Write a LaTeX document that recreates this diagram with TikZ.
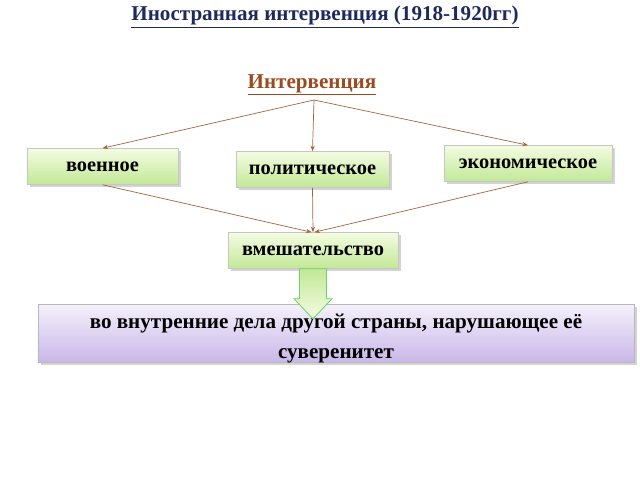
\documentclass[tikz,border=0pt]{standalone}
\usepackage{fontspec}
\setmainfont{Liberation Serif}
\usepackage{xcolor}
\usetikzlibrary{shapes,arrows.meta,positioning,shadows}
\definecolor{titleblue}{HTML}{1F2A5C}
\definecolor{rootbrown}{HTML}{9C4A20}
\definecolor{linkbrown}{HTML}{A56440}
\definecolor{greentop}{HTML}{F4FCE2}
\definecolor{greenbot}{HTML}{C2E896}
\definecolor{violettop}{HTML}{F4F0FB}
\definecolor{violetbot}{HTML}{C9B7E8}

\begin{document}
\begin{tikzpicture}[x=0.025cm,y=-0.025cm,
    kindbox/.style={draw=gray!45, top color=greentop, bottom color=greenbot,
        minimum height=0.9cm, inner sep=0pt, font=\fontsize{14.5}{17}\selectfont\bfseries,
        drop shadow={shadow xshift=2pt, shadow yshift=-2pt, opacity=0.35, fill=gray}},
    resultbox/.style={draw=gray!55, top color=violettop, bottom color=violetbot,
        minimum width=14.9cm, minimum height=1.45cm, align=center,
        font=\fontsize{15}{19}\selectfont\bfseries,
        drop shadow={shadow xshift=2pt, shadow yshift=-2pt, opacity=0.35, fill=gray}},
    link/.style={draw=linkbrown, line width=0.5pt, -{Stealth[length=4pt,width=3pt]}}]
    \useasboundingbox (0,0) rectangle (640,480);

    \node[text=titleblue, font=\fontsize{15}{18}\selectfont\bfseries] (title) at (325,17)
        {\underline{Иностранная интервенция (1918-1920гг)}};
    \node[text=rootbrown, font=\fontsize{15}{18}\selectfont\bfseries] (root) at (312,85)
        {\underline{Интервенция}};
    \coordinate (hub) at (314,100);

    % kinds of intervention
    \node[kindbox, minimum width=3.78cm] (mil) at (102.5,166.5) {военное};
    \node[kindbox, minimum width=3.83cm] (pol) at (312.5,169.5) {политическое};
    \node[kindbox, minimum width=4.2cm] (eco) at (528,163.5) {экономическое};
    \node[kindbox, minimum width=4.25cm] (mix) at (313,250.5) {вмешательство};

    \draw[link] (hub) -- (mil.north);
    \draw[link] (hub) -- (pol.north);
    \draw[link] (hub) -- (eco.north);
    \draw[link] (mil.south) -- ([xshift=-1pt]mix.north);
    \draw[link] (pol.south) -- (mix.north);
    \draw[link] (eco.south) -- ([xshift=1pt]mix.north);

    \node[resultbox] (res) at (336,333.5)
        {\raisebox{-7pt}[0pt][0pt]{\begin{tabular}{c}во внутренние дела другой страны, нарушающее её\\[2pt]суверенитет\end{tabular}}};

    % block arrow down
    \draw[draw=green!55!gray!75, top color=greenbot, bottom color=greentop, line width=0.6pt]
        (mix.south) ++(-13.5,0) -- ++(0,30) -- ++(-5.5,0) -- ++(19,20)
        -- ++(19,-20) -- ++(-5.5,0) -- ++(0,-30) -- cycle;
\end{tikzpicture}
\end{document}
